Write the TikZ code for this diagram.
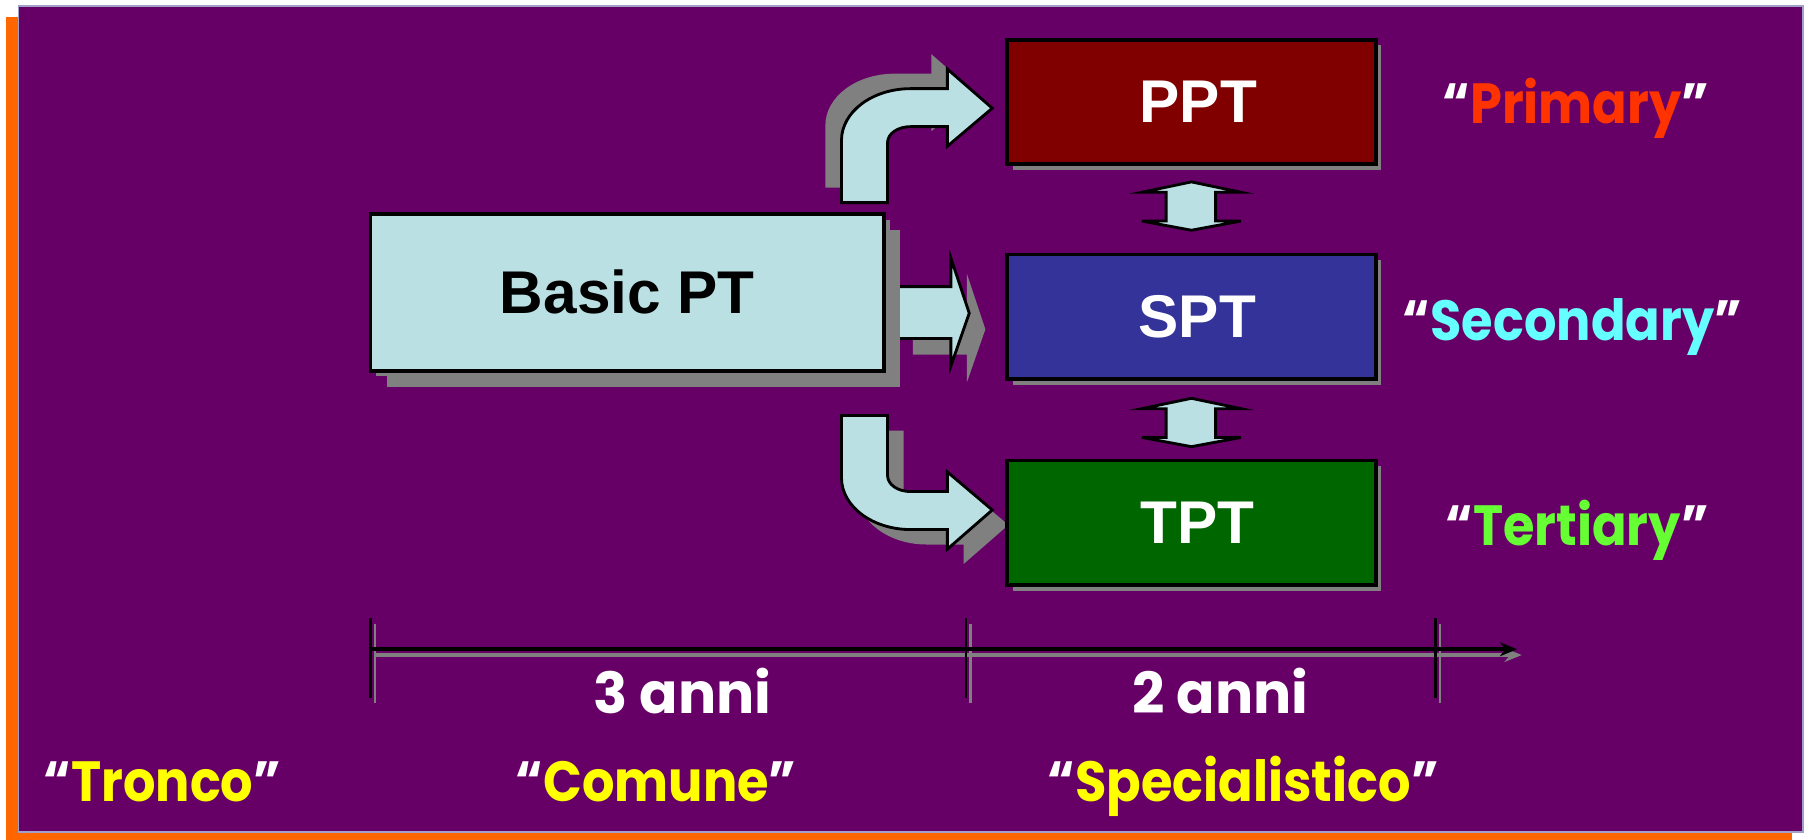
\documentclass[tikz,border=0pt]{standalone}
\usepackage{graphicx}
\usepackage{fontspec}
\setmainfont{Liberation Sans}
\newfontfamily\comicfont{Poppins}
\usetikzlibrary{arrows.meta,positioning,shadows}

\definecolor{bgpurple}{HTML}{660066}
\definecolor{bgorange}{HTML}{FF6600}
\definecolor{bgedge}{HTML}{A0A0C8}
\definecolor{boxcyan}{HTML}{BBE0E3}
\definecolor{pptred}{HTML}{800000}
\definecolor{sptblue}{HTML}{333399}
\definecolor{tptgreen}{HTML}{006600}
\definecolor{shadowgray}{HTML}{808080}
\definecolor{primred}{HTML}{FF3300}
\definecolor{secocyan}{HTML}{66FFFF}
\definecolor{tertgreen}{HTML}{66FF33}
\definecolor{phaseyellow}{HTML}{FFFF00}

\newcommand\quoted[1]{\scalebox{0.9}[1]{{\color{white}“}#1{\color{white}”}}}

\tikzset{
  boxshadow/.style={drop shadow={shadow xshift=#1, shadow yshift=-#1,
      fill=shadowgray, opacity=1}},
  ptbox/.style={draw=black, line width=0.9pt, minimum width=3.2cm,
      minimum height=1.08cm, inner sep=0pt, text=white,
      font=\fontsize{14.9}{18}\selectfont\bfseries, boxshadow=0.05cm},
  blockarrow/.style={draw=black, line width=0.7pt, fill=boxcyan, line join=miter},
  arrowshadow/.style={fill=shadowgray},
  comic/.style={font=\comicfont\bfseries\fontsize{14}{17}\selectfont, anchor=base},
  timeline/.style={line width=0.9pt},
  tick/.style={line width=0.6pt},
}

\begin{document}
\begin{tikzpicture}[x=0.01cm, y=-0.01cm, >={Stealth[length=0.15cm,width=0.12cm]}]
  \useasboundingbox (0,0) rectangle (1568,729);
  % background
  \fill[white] (0,0) rectangle (1568,729);
  \fill[bgorange] (5,15) rectangle (1557,735);
  \filldraw[fill=bgpurple, draw=bgedge, line width=0.4pt] (16,5) rectangle (1566,723);

  % bent and straight block arrows
  \fill[arrowshadow, shift={(-14,-13)}] (731,176) -- (731,122)
    .. controls (731,97) and (758,77) .. (791,77) -- (823,77) -- (823,60)
    -- (862,94) -- (823,127) -- (823,110) -- (791,110)
    .. controls (780,110) and (771,116) .. (771,124) -- (771,176) -- cycle;
  \draw[blockarrow] (731,176) -- (731,122)
    .. controls (731,97) and (758,77) .. (791,77) -- (823,77) -- (823,60)
    -- (862,94) -- (823,127) -- (823,110) -- (791,110)
    .. controls (780,110) and (771,116) .. (771,124) -- (771,176) -- cycle;

  \fill[arrowshadow, shift={(14,13)}] (731,361) -- (731,415)
    .. controls (731,440) and (758,460) .. (791,460) -- (823,460) -- (823,477)
    -- (862,443) -- (823,410) -- (823,427) -- (791,427)
    .. controls (780,427) and (771,421) .. (771,413) -- (771,361) -- cycle;
  \draw[blockarrow] (731,361) -- (731,415)
    .. controls (731,440) and (758,460) .. (791,460) -- (823,460) -- (823,477)
    -- (862,443) -- (823,410) -- (823,427) -- (791,427)
    .. controls (780,427) and (771,421) .. (771,413) -- (771,361) -- cycle;

  \fill[arrowshadow, shift={(14,14)}] (779,249) -- (826,249) -- (826,224)
    -- (842,272) -- (826,318) -- (826,294) -- (779,294) -- cycle;
  \draw[blockarrow] (779,249) -- (826,249) -- (826,224)
    -- (842,272) -- (826,318) -- (826,294) -- (779,294) -- cycle;

  % boxes
  \node[ptbox, fill=boxcyan, text=black, minimum width=4.46cm,
        minimum height=1.36cm, boxshadow=0.14cm] (basic) at (545,254) {Basic PT};
  \node[ptbox, fill=pptred] (ppt) at (1035,88.5) {\hspace*{0.12cm}PPT};
  \node[ptbox, fill=sptblue] (spt) at (1035,275) {\hspace*{0.1cm}SPT};
  \node[ptbox, fill=tptgreen] (tpt) at (1035,454) {\hspace*{0.1cm}TPT};

  % double arrows between the boxes
  \foreach \dy in {0,188}
    \draw[blockarrow, shift={(0,\dy)}] (1035,158) -- (1078,167) -- (1056,167)
      -- (1056,192) -- (1078,192) -- (1035,200) -- (992,192) -- (1013,192)
      -- (1013,167) -- (992,167) -- cycle;

  % time line
  \coordinate (t0) at (322,564);
  \coordinate (t1) at (839,564);
  \coordinate (t2) at (1247,564);
  \coordinate (tend) at (1318,564);
  \draw[timeline, shadowgray, ->] ([xshift=0.04cm,yshift=-0.05cm]t0)
    -- ([xshift=0.04cm,yshift=-0.05cm]tend);
  \foreach \t in {t0,t1,t2}
    \draw[tick, shadowgray] ([xshift=0.04cm,yshift=0.22cm]\t)
      -- ([xshift=0.04cm,yshift=-0.47cm]\t);
  \draw[timeline, black, ->] (t0) -- (tend);
  \foreach \t in {t0,t1,t2}
    \draw[tick, black] ([yshift=0.27cm]\t) -- ([yshift=-0.42cm]\t);

  % labels
  \node[comic, text=primred] (primary) at (1369,107) {\quoted{Primary}};
  \node[comic, text=secocyan] (secondary) at (1366,296) {\quoted{Secondary}};
  \node[comic, text=tertgreen] (tertiary) at (1370,474) {\quoted{Tertiary}};
  \node[comic, text=white] (three) at (593,620) {3 anni};
  \node[comic, text=white] (two) at (1060,620) {2 anni};
  \node[comic, text=phaseyellow] (tronco) at (141,696) {\quoted{Tronco}};
  \node[comic, text=phaseyellow] (comune) at (570,696) {\quoted{Comune}};
  \node[comic, text=phaseyellow] (special) at (1080,696) {\quoted{Specialistico}};
\end{tikzpicture}
\end{document}
